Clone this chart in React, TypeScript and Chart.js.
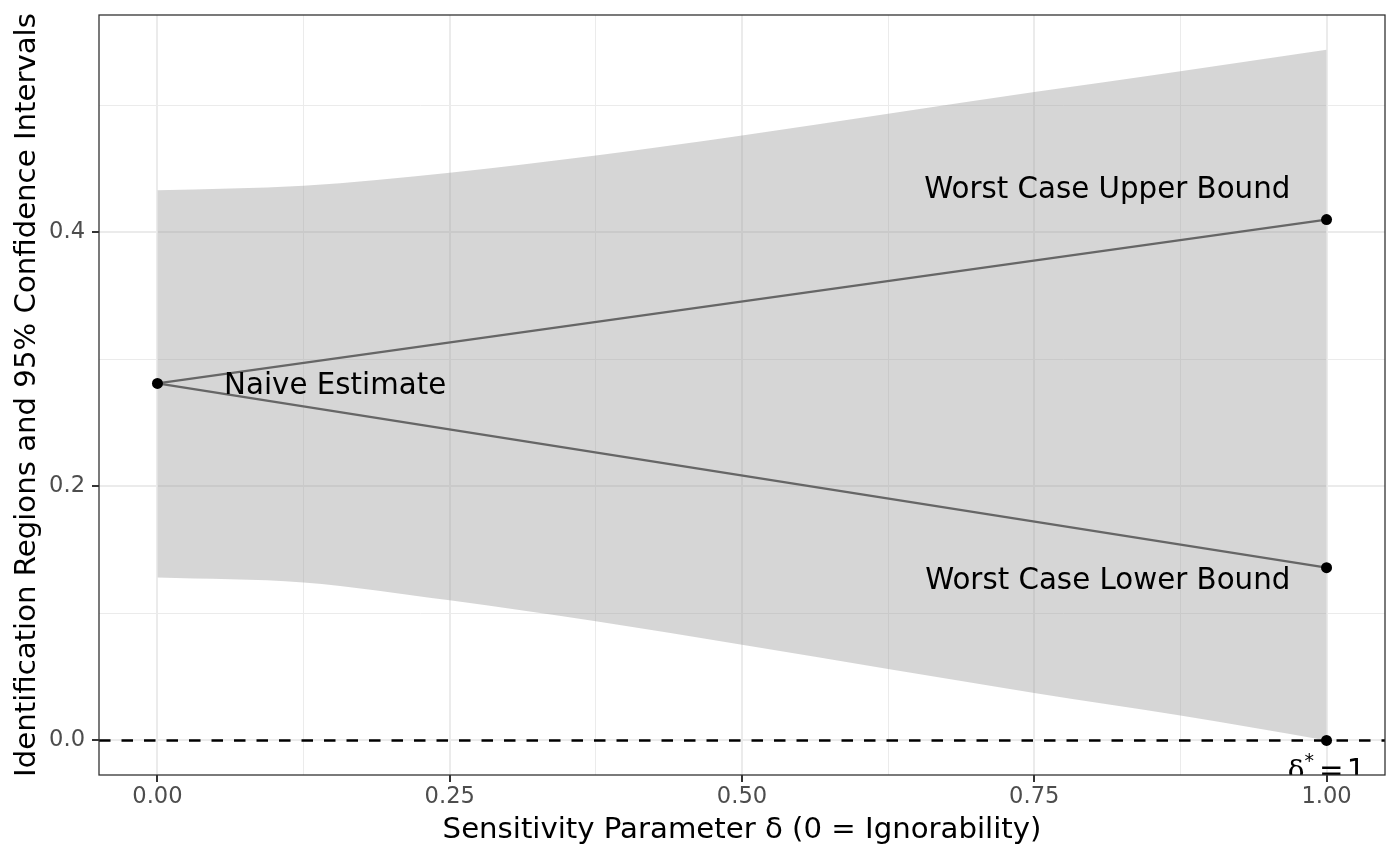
import React, { useEffect, useRef } from "react";
import { Chart, registerables } from "chart.js";

Chart.register(...registerables);

// ---- data ----
const deltaGrid = [0, 0.125, 0.25, 0.375, 0.5, 0.625, 0.75, 0.875, 1];
const ciUpper = [0.433, 0.4366, 0.4469, 0.4605, 0.4762, 0.4932, 0.5103, 0.5268, 0.5436];
const ciLower = [0.1283, 0.1244, 0.1103, 0.0938, 0.0754, 0.0563, 0.0374, 0.0196, 0.0];
const boundX = [0, 1];
const upperBound = [0.281, 0.41];
const lowerBound = [0.281, 0.136];
const pointX = [0, 1, 1, 1];
const pointY = [0.281, 0.41, 0.136, 0];
const refLineY = 0;

const xTicks = [0, 0.25, 0.5, 0.75, 1];
const xTickLabels = ["0.00", "0.25", "0.50", "0.75", "1.00"];
const xMinor = [0.125, 0.375, 0.625, 0.875];
const yTicks = [0, 0.2, 0.4];
const yTickLabels = ["0.0", "0.2", "0.4"];
const yMinor = [0.1, 0.3, 0.5];

const labelTexts = ["Naive Estimate", "Worst Case Upper Bound", "Worst Case Lower Bound"];
const labelX = [0.057, 0.969, 0.969];
const labelY = [0.281, 0.4354, 0.128];
const labelAlign = ["left", "right", "right"];
const deltaLabelX = 1;
const deltaLabelY = -0.0225;

const xTitle = "Sensitivity Parameter δ (0 = Ignorability)";
const yTitle = "Identification Regions and 95% Confidence Intervals";

const X_MIN = -0.05;
const X_MAX = 1.05;
const Y_MIN = -0.0272;
const Y_MAX = 0.571;

const FONT = "'DejaVu Sans', sans-serif";
const TITLE_SIZE = 29.2;
const TICK_SIZE = 22.6;
const TEXT_SIZE = 29.3;

const annotatePlugin = {
  id: "annotate",
  afterDatasetsDraw(chart: any) {
    const { ctx, chartArea, scales } = chart;
    const xs = scales.x;
    const ys = scales.y;
    ctx.save();
    ctx.beginPath();
    ctx.rect(chartArea.left, chartArea.top, chartArea.right - chartArea.left, chartArea.bottom - chartArea.top);
    ctx.clip();
    ctx.fillStyle = "#000000";
    ctx.textBaseline = "alphabetic";
    ctx.font = `${TEXT_SIZE}px ${FONT}`;
    const capHalf = (TEXT_SIZE * 0.729) / 2;
    for (let i = 0; i < labelTexts.length; i++) {
      ctx.textAlign = labelAlign[i] as CanvasTextAlign;
      ctx.fillText(labelTexts[i], xs.getPixelForValue(labelX[i]), ys.getPixelForValue(labelY[i]) + capHalf);
    }
    // delta* = 1 (plotmath style)
    const base = ys.getPixelForValue(deltaLabelY) + capHalf;
    const cx = xs.getPixelForValue(deltaLabelX);
    ctx.textAlign = "left";
    const fDelta = `${TEXT_SIZE * 0.95}px 'DejaVu Serif', serif`;
    const fStar = `${TEXT_SIZE * 0.65}px ${FONT}`;
    const fRest = `${TEXT_SIZE}px ${FONT}`;
    ctx.font = fDelta;
    const wD = ctx.measureText("δ").width;
    ctx.font = fStar;
    const wS = ctx.measureText("*").width;
    ctx.font = fRest;
    const wE = ctx.measureText("=").width;
    const w1 = ctx.measureText("1").width;
    const g1 = 5;
    const g2 = 3;
    const total = wD + wS + g1 + wE + g2 + w1;
    let x0 = cx - total / 2;
    ctx.font = fDelta;
    ctx.fillText("δ", x0, base);
    x0 += wD;
    ctx.font = fStar;
    ctx.fillText("*", x0, base - 13);
    x0 += wS + g1;
    ctx.font = fRest;
    ctx.fillText("=", x0, base);
    x0 += wE + g2;
    ctx.fillText("1", x0, base);
    ctx.restore();

    // panel border
    ctx.save();
    ctx.strokeStyle = "#333333";
    ctx.lineWidth = 1.3;
    ctx.strokeRect(chartArea.left, chartArea.top, chartArea.right - chartArea.left, chartArea.bottom - chartArea.top);
    ctx.restore();
  },
};

function isIn(arr: number[], v: number) {
  return arr.some((a) => Math.abs(a - v) < 1e-9);
}

export default function App() {
  const canvasRef = useRef<HTMLCanvasElement | null>(null);

  useEffect(() => {
    const canvas = canvasRef.current;
    if (!canvas) return;

    const pts = (xsArr: number[], ysArr: number[]) => xsArr.map((x, i) => ({ x, y: ysArr[i] }));

    const chart = new Chart(canvas, {
      type: "line",
      data: {
        datasets: [
          {
            label: "points",
            data: pts(pointX, pointY),
            showLine: false,
            pointRadius: 5.5,
            pointBackgroundColor: "#000000",
            pointBorderColor: "#000000",
            pointBorderWidth: 0,
            borderColor: "#000000",
            fill: false,
          },
          {
            label: "upper bound",
            data: pts(boundX, upperBound),
            borderColor: "#666666",
            borderWidth: 2.3,
            pointRadius: 0,
            fill: false,
          },
          {
            label: "lower bound",
            data: pts(boundX, lowerBound),
            borderColor: "#666666",
            borderWidth: 2.3,
            pointRadius: 0,
            fill: false,
          },
          {
            label: "zero",
            data: [
              { x: X_MIN, y: refLineY },
              { x: X_MAX, y: refLineY },
            ],
            borderColor: "#000000",
            borderWidth: 2.6,
            borderDash: [11.5, 11],
            pointRadius: 0,
            fill: false,
          },
          {
            label: "ci upper",
            data: pts(deltaGrid, ciUpper),
            borderColor: "rgba(0,0,0,0)",
            borderWidth: 0,
            pointRadius: 0,
            cubicInterpolationMode: "monotone",
            backgroundColor: "rgba(153,153,153,0.4)",
            fill: "+1",
          },
          {
            label: "ci lower",
            data: pts(deltaGrid, ciLower),
            borderColor: "rgba(0,0,0,0)",
            borderWidth: 0,
            pointRadius: 0,
            cubicInterpolationMode: "monotone",
            fill: false,
          },
        ],
      },
      options: {
        animation: false,
        responsive: false,
        events: [],
        layout: { padding: { top: 15, right: 15, left: 0, bottom: 0 } },
        elements: { line: { tension: 0 } },
        plugins: {
          legend: { display: false },
          tooltip: { enabled: false },
        },
        scales: {
          x: {
            type: "linear",
            min: X_MIN,
            max: X_MAX,
            afterBuildTicks: (s: any) => {
              s.ticks = [...xTicks, ...xMinor].sort((a, b) => a - b).map((v) => ({ value: v }));
            },
            afterFit: (s: any) => {
              s.height = 91;
              s.paddingLeft = 0;
              s.paddingRight = 0;
            },
            ticks: {
              autoSkip: false,
              maxRotation: 0,
              minRotation: 0,
              padding: 2,
              color: "#4D4D4D",
              font: { family: FONT, size: TICK_SIZE },
              callback: (v: any) => {
                const i = xTicks.findIndex((t) => Math.abs(t - v) < 1e-9);
                return i >= 0 ? xTickLabels[i] : "";
              },
            },
            grid: {
              color: "#EBEBEB",
              lineWidth: (c: any) => (c.tick && isIn(xTicks, c.tick.value) ? 2 : 1),
              tickColor: (c: any) => (c.tick && isIn(xTicks, c.tick.value) ? "#333333" : "rgba(0,0,0,0)"),
              tickLength: 7,
              tickWidth: 2,
            },
            border: { display: false },
            title: {
              display: true,
              text: xTitle,
              color: "#000000",
              font: { family: FONT, size: TITLE_SIZE },
              padding: { top: 0, bottom: 18 },
            },
          },
          y: {
            type: "linear",
            min: Y_MIN,
            max: Y_MAX,
            afterBuildTicks: (s: any) => {
              s.ticks = [...yTicks, ...yMinor].sort((a, b) => a - b).map((v) => ({ value: v }));
            },
            afterFit: (s: any) => {
              s.width = 99;
              s.paddingTop = 0;
              s.paddingBottom = 0;
            },
            ticks: {
              autoSkip: false,
              padding: 7,
              color: "#4D4D4D",
              font: { family: FONT, size: TICK_SIZE },
              callback: (v: any) => {
                const i = yTicks.findIndex((t) => Math.abs(t - v) < 1e-9);
                return i >= 0 ? yTickLabels[i] : "";
              },
            },
            grid: {
              color: "#EBEBEB",
              lineWidth: (c: any) => (c.tick && isIn(yTicks, c.tick.value) ? 2 : 1),
              tickColor: (c: any) => (c.tick && isIn(yTicks, c.tick.value) ? "#333333" : "rgba(0,0,0,0)"),
              tickLength: 7,
              tickWidth: 2,
            },
            border: { display: false },
            title: {
              display: true,
              text: yTitle,
              color: "#000000",
              font: { family: FONT, size: TITLE_SIZE },
              padding: { top: 10, bottom: 0 },
            },
          },
        },
      },
      plugins: [annotatePlugin],
    } as any);

    return () => {
      chart.destroy();
    };
  }, []);

  return (
    <div style={{ position: "fixed", left: 0, top: 0, width: 1400, height: 866, background: "#ffffff" }}>
      <canvas ref={canvasRef} width={1400} height={866} style={{ display: "block", width: 1400, height: 866 }} />
    </div>
  );
}
